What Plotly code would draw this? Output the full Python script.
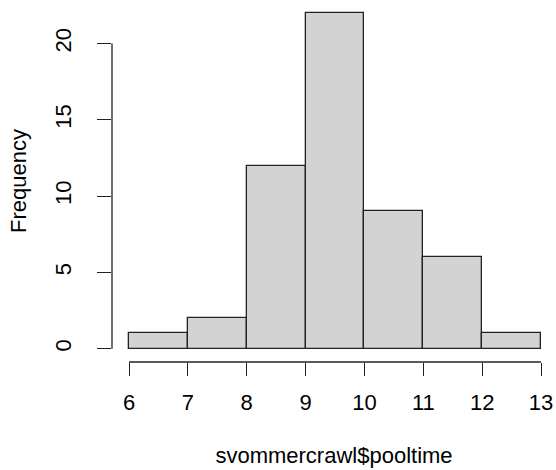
import plotly.graph_objects as go

bin_edges = [6, 7, 8, 9, 10, 11, 12, 13]
counts = [1, 2, 12, 22, 9, 6, 1]
y_ticks = [0, 5, 10, 15, 20]
x_label = "svommercrawl$pooltime"
y_label = "Frequency"

lefts = bin_edges[:-1]
widths = [b - a for a, b in zip(bin_edges[:-1], bin_edges[1:])]

FONT = "Liberation Sans, Arial, sans-serif"
fig = go.Figure()
fig.add_trace(go.Bar(
    x=lefts, y=counts, width=widths, offset=0,
    marker=dict(color="#D3D3D3", line=dict(color="#222222", width=1.3)),
    hoverinfo="skip", showlegend=False,
))

fig.update_layout(
    width=556, height=470, autosize=False,
    margin=dict(l=112, r=0, t=0, b=108, pad=0),
    plot_bgcolor="white", paper_bgcolor="white",
    font=dict(family=FONT, size=22, color="black"),
    bargap=0,
    xaxis=dict(
        range=[5.711, 13.254], tickvals=bin_edges, ticktext=[str(v) for v in bin_edges],
        showgrid=False, zeroline=False, showline=False,
        ticks="outside", ticklen=13, tickwidth=1.3, tickcolor="#222222",
        ticklabelstandoff=8,
        title=dict(text=x_label, standoff=33, font=dict(size=22)),
        fixedrange=True,
    ),
    yaxis=dict(
        range=[-0.87, 22.85], tickvals=y_ticks, ticktext=[str(v) for v in y_ticks],
        tickangle=-90,
        showgrid=False, zeroline=False, showline=False,
        ticks="outside", ticklen=14, tickwidth=1.3, tickcolor="#222222",
        ticklabelstandoff=17,
        title=dict(text=y_label, standoff=18, font=dict(size=22)),
        fixedrange=True,
    ),
)

# R-style detached axis lines spanning only the tick range
fig.add_shape(type="line", xref="x", yref="paper",
              x0=bin_edges[0], x1=bin_edges[-1], y0=0, y1=0,
              line=dict(color="#222222", width=1.3))
fig.add_shape(type="line", xref="paper", yref="y",
              x0=0, x1=0, y0=y_ticks[0], y1=y_ticks[-1],
              line=dict(color="#222222", width=1.3))

fig.write_html("out.html")
